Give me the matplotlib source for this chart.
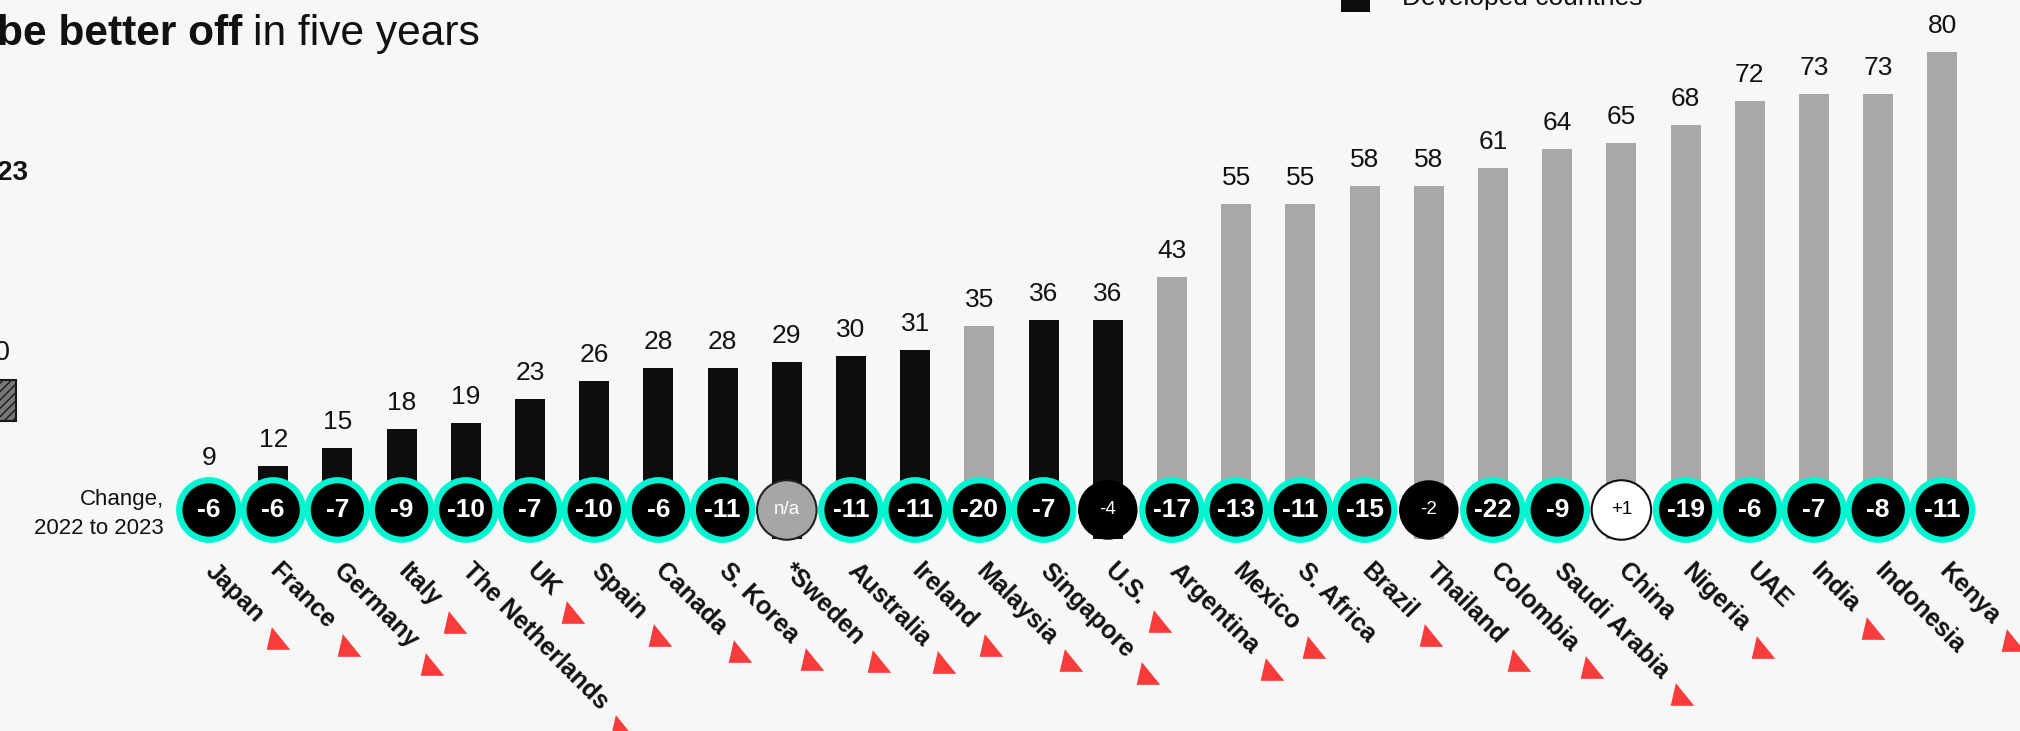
import numpy as np
import matplotlib.pyplot as plt
from matplotlib.patches import Rectangle
from matplotlib.path import Path

plt.rcParams['font.family'] = ['Liberation Sans', 'DejaVu Sans']

countries = ["Japan", "France", "Germany", "Italy", "The Netherlands", "UK", "Spain",
             "Canada", "S. Korea", "*Sweden", "Australia", "Ireland", "Malaysia",
             "Singapore", "U.S.", "Argentina", "Mexico", "S. Africa", "Brazil",
             "Thailand", "Colombia", "Saudi Arabia", "China", "Nigeria", "UAE",
             "India", "Indonesia", "Kenya"]
values = [9, 12, 15, 18, 19, 23, 26, 28, 28, 29, 30, 31, 35, 36, 36, 43, 55, 55,
          58, 58, 61, 64, 65, 68, 72, 73, 73, 80]
changes = ["-6", "-6", "-7", "-9", "-10", "-7", "-10", "-6", "-11", "n/a", "-11",
           "-11", "-20", "-7", "-4", "-17", "-13", "-11", "-15", "-2", "-22", "-9",
           "+1", "-19", "-6", "-7", "-8", "-11"]
# 1 = developed, 0 = developing
developed = [1, 1, 1, 1, 1, 1, 1, 1, 1, 1, 1, 1, 0, 1, 1, 0, 0, 0, 0, 0, 0, 0,
             0, 0, 0, 0, 0, 0]
# sig = significant change, ns = not significant, na = no data, up = increase
change_kind = ["sig"] * 9 + ["na"] + ["sig"] * 4 + ["ns"] + ["sig"] * 4 + ["ns"] + \
              ["sig"] * 2 + ["up"] + ["sig"] * 5
# red arrow after the name
arrow = [1] * 17 + [0] + [1, 1, 1, 1] + [0] + [1, 0, 1, 0, 1]

W, H, DPI = 2020, 731, 100
BG = '#f7f7f7'
TEAL = '#00f5d0'

fig = plt.figure(figsize=(W / DPI, H / DPI), dpi=DPI, facecolor=BG)
ax = fig.add_axes([0, 0, 1, 1])
ax.set_facecolor(BG)
ax.axis('off')

# layout in pixels: first column, column step, zero line (from top), px per point
px_x0, px_step = 209, 64.2
px_base, px_unit = 539, 6.09
ax.set_xlim(-px_x0 / px_step, (W - px_x0) / px_step)
ax.set_ylim(-(H - px_base) / px_unit, px_base / px_unit)
ypx = lambda p: (px_base - p) / px_unit
xpx = lambda p: (p - px_x0) / px_step

x = np.arange(len(countries))
bar_cols = ['#0d0d0d' if d else '#a8a8a8' for d in developed]
ax.bar(x, values, width=30 / px_step, color=bar_cols, zorder=1)

for i, v in enumerate(values):
    ax.annotate(str(v), (i, v), xytext=(0, 19 * 0.72), textcoords='offset points',
                ha='center', va='baseline', fontsize=19, color='#111111')

# change circles
face = {'sig': 'black', 'ns': 'black', 'na': '#a6a6a6', 'up': 'white'}
edge = {'sig': TEAL, 'ns': 'black', 'na': '#222222', 'up': '#111111'}
lw = {'sig': 4.5, 'ns': 0.0, 'na': 1.5, 'up': 1.5}
cy = ypx(510)
ax.scatter(x, np.full(len(x), cy), s=(59.5 * 0.72) ** 2,
           c=[face[k] for k in change_kind],
           edgecolors=[edge[k] for k in change_kind],
           linewidths=[lw[k] for k in change_kind], zorder=3)
for i, (c, k) in enumerate(zip(changes, change_kind)):
    if k == 'sig':
        ax.text(i, cy, c, ha='center', va='center', fontsize=19, weight='bold',
                color='white', zorder=4)
    else:
        ax.text(i, cy, c, ha='center', va='center', fontsize=13.5,
                color='black' if k == 'up' else 'white', zorder=4)

ax.text(xpx(164), ypx(514), "Change,\n2022 to 2023", ha='right', va='center',
        multialignment='right', fontsize=16, linespacing=1.45, color='#111111')

labels = []
for i, name in enumerate(countries):
    t = ax.text(i + 0.14, ypx(559), name, rotation=-45, rotation_mode='anchor',
                ha='left', va='top', fontsize=18, weight='bold', color='#111111')
    labels.append(t)

# title (cut at the left edge) and partial legend items
fy = lambda p: (H - p) / H
fx = lambda p: p / W
t1 = fig.text(fx(-3), fy(45), "be better off", fontsize=30.6, weight='bold',
              va='baseline', color='#111111')
fig.text(fx(28), fy(180), "2023", fontsize=20, weight='bold', ha='right',
         va='baseline', color='#111111')
fig.text(fx(10), fy(360), "40", fontsize=20, ha='right', va='baseline',
         color='#111111')
fig.patches.append(Rectangle((fx(-30), fy(421)), fx(46), fy(380) - fy(421),
                             transform=fig.transFigure, facecolor='#777777',
                             edgecolor='#1a1a1a', hatch='////', linewidth=1.5))
fig.patches.append(Rectangle((fx(1341), fy(12)), fx(29), fy(-17) - fy(12),
                             transform=fig.transFigure, facecolor='#0d0d0d',
                             edgecolor='none'))
fig.text(fx(1402), fy(5), "Developed countries", fontsize=19, va='baseline',
         color='#111111')

fig.canvas.draw()
r = fig.canvas.get_renderer()
bb = t1.get_window_extent(r)
fig.text((bb.x1 + 11) / W, fy(45), "in five years", fontsize=30.6, va='baseline',
         color='#111111')

tri = Path([(-0.5, -0.48), (0.5, -0.48), (-0.28, 0.48), (-0.5, -0.48)],
           [Path.MOVETO, Path.LINETO, Path.LINETO, Path.CLOSEPOLY])
inv = ax.transData.inverted()
for t, a in zip(labels, arrow):
    if not a:
        continue
    b = t.get_window_extent(r)
    px, py = inv.transform((b.x1 + 9, b.y0 - 11))
    ax.plot(px, py, marker=tri, markersize=17, color='#f83c3c', mec='none',
            zorder=5, clip_on=False)

fig.savefig('out.png', dpi=DPI, facecolor=BG)
